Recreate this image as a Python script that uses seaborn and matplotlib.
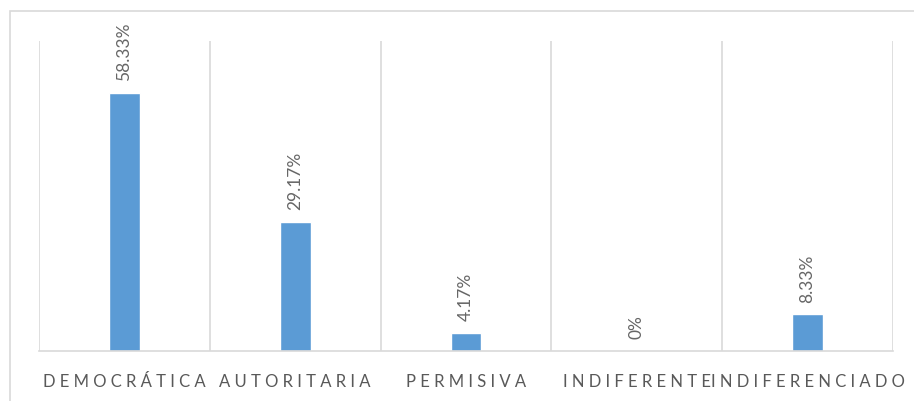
import pandas as pd
import matplotlib.pyplot as plt
import seaborn as sns
from matplotlib.patches import Rectangle

sns.set_style('white')
plt.rcParams['font.family'] = ['Lato', 'DejaVu Sans']

estilos = ['DEMOCRÁTICA', 'AUTORITARIA', 'PERMISIVA', 'INDIFERENTE', 'INDIFERENCIADO']
porcentajes = [58.33, 29.17, 4.17, 0, 8.33]
etiquetas = ['58.33%', '29.17%', '4.17%', '0%', '8.33%']

df = pd.DataFrame({'estilo': estilos, 'pct': porcentajes})

fig, ax = plt.subplots(figsize=(9.14, 4.02), dpi=100)
fig.subplots_adjust(left=0.0427, right=0.977, bottom=0.1244, top=0.8955)

sns.barplot(data=df, x='estilo', y='pct', color='#5B9BD5', width=0.18,
            saturation=1, ax=ax)

ax.set_xlim(-0.5, 4.5)
ax.set_ylim(0, 70)

# vertical separators between categories
for b in [i - 0.5 for i in range(6)]:
    ax.axvline(b, color='#D9D9D9', lw=1.2, zorder=0)

for s in ['top', 'right', 'left']:
    ax.spines[s].set_visible(False)
ax.spines['bottom'].set_color('#D9D9D9')
ax.spines['bottom'].set_linewidth(1.2)
ax.set_yticks([])
ax.set_xlabel('')
ax.set_ylabel('')

# letter spaced category labels
ax.set_xticks(range(len(estilos)))
ax.set_xticklabels([' '.join(e) for e in estilos], fontsize=12,
                   color='#595959')
ax.tick_params(axis='x', length=0, pad=16)

for i, (v, t) in enumerate(zip(porcentajes, etiquetas)):
    ax.annotate(t, (i, v), xytext=(0, 9), textcoords='offset points',
                rotation=90, ha='center', va='bottom', fontsize=12.5,
                color='#666666', annotation_clip=False)

fig.patches.append(Rectangle((10 / 914, -0.1), 1.2, (402 - 12) / 402 + 0.1,
                             transform=fig.transFigure, fill=False,
                             edgecolor='#D9D9D9', lw=1.2))

fig.savefig('out.png', dpi=100)
